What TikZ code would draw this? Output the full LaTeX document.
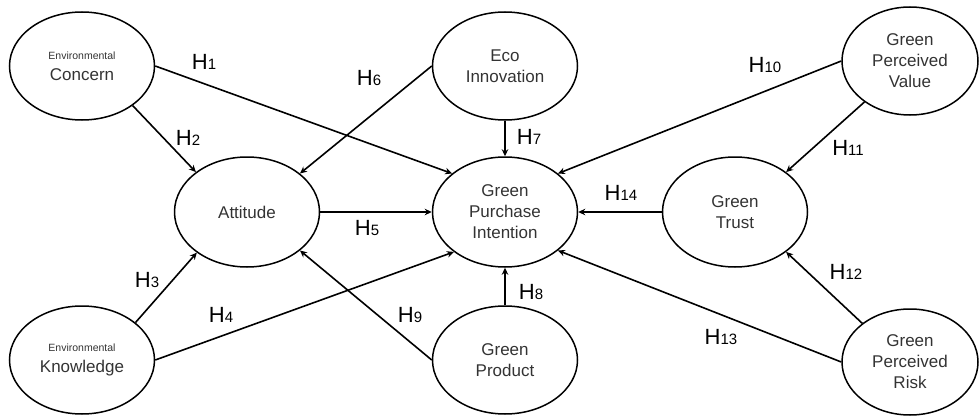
\documentclass[tikz,border=0pt]{standalone}
\usepackage{fontspec}
\setmainfont{Liberation Sans}
\usetikzlibrary{shapes.geometric,arrows.meta}

\tikzset{
  construct/.style={draw, ellipse, line width=1.5pt, inner sep=0pt,
    minimum width=145pt, minimum height=108pt, align=center,
    font=\fontsize{17}{21}\selectfont, text=black!80},
  hyp/.style={line width=1.6pt, -{Stealth[length=7pt,width=6.5pt]}},
  hlabel/.style={font=\fontsize{22}{22}\selectfont}
}
\newcommand{\hyplabel}[1]{H{\fontsize{15}{15}\selectfont #1}}
\newcommand{\smallword}[1]{{\fontsize{10.5}{12}\selectfont #1}}

\begin{document}
\begin{tikzpicture}[x=1pt, y=1pt]
  \useasboundingbox (0,0) rectangle (980,416);

  % --- Constructs ---
  \node[construct] (ec)  at (82,350)  {\smallword{Environmental}\\Concern};
  \node[construct] (ek)  at (82,56)   {\smallword{Environmental}\\Knowledge};
  \node[construct, minimum height=110pt] (att) at (247,204) {Attitude};
  \node[construct] (eco) at (505,350) {Eco\\Innovation};
  \node[construct, minimum height=110pt] (gpi) at (505,204) {Green\\Purchase\\Intention};
  \node[construct] (gp)  at (505,56)  {Green\\Product};
  \node[construct, minimum height=110pt] (gt)  at (735,204) {Green\\Trust};
  \node[construct, minimum width=136pt] (gpv) at (910,355) {Green\\Perceived\\Value};
  \node[construct, minimum width=136pt, minimum height=106pt] (gpr) at (910,54) {Green\\Perceived\\Risk};

  % --- Hypothesised paths ---
  \draw[hyp] (ec.east) -- (gpi.144);
  \draw[hyp] (ec.-38) -- (att.142);
  \draw[hyp] (ek.35) -- (att.219);
  \draw[hyp] (ek.east) -- (gpi.218);
  \draw[hyp] (att.east) -- (gpi.west);
  \draw[hyp] (eco.west) -- (att.36);
  \draw[hyp] (eco.south) -- (gpi.north);
  \draw[hyp] (gp.north) -- (gpi.south);
  \draw[hyp] (gp.west) -- (att.-36);
  \draw[hyp] (gpv.west) -- (gpi.36);
  \draw[hyp] (gpv.222) -- (gt.38);
  \draw[hyp] (gpr.141) -- (gt.-38);
  \draw[hyp] (gpr.west) -- (gpi.-36);
  \draw[hyp] (gt.west) -- (gpi.east);

  % --- Hypothesis labels ---
  \foreach \n/\x/\y in {1/204/354, 2/188/278, 3/147/136, 4/221/101,
                        5/367/188, 6/369/338, 7/529/279, 8/531/124,
                        9/410/101, 10/765/351, 11/848/268, 12/846/144,
                        13/721/79, 14/621/223}
    \node[hlabel] (h\n) at (\x,\y) {\hyplabel{\n}};
\end{tikzpicture}
\end{document}
